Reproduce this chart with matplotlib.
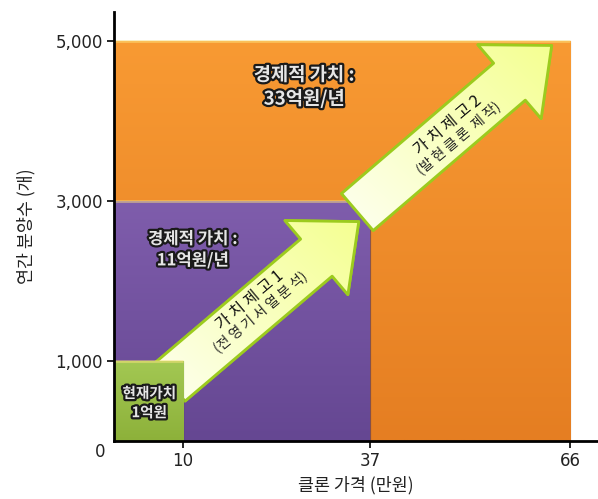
import numpy as np
import matplotlib
matplotlib.use('Agg')
import matplotlib.pyplot as plt
from matplotlib.patches import FancyArrowPatch, ArrowStyle
import matplotlib.patheffects as pe

plt.rcParams['font.family'] = ['Noto Sans CJK KR', 'DejaVu Sans']

# 단계별 (가격, 분양수)
prices = [66, 37, 10]
volumes = [5000, 3000, 1000]
top_colors = ['#F89A33', '#7F5DAC', '#A3C853']
bot_colors = ['#E57E22', '#654792', '#8DB13A']
labels = ['경제적 가치 :\n33억원/년', '경제적 가치 :\n11억원/년', '현재가치\n1억원']
label_pos = [(27.5, 4420), (11.4, 2390), (5.1, 480)]
label_size = [13.5, 12, 10.5]

xticks = [10, 37, 66]
yticks = [1000, 3000, 5000]
ytick_labels = ['1,000', '3,000', '5,000']

# 화살표 (꼬리 중심 -> 끝점)
arrows = [((8.0, 730), (35.4, 2740)), ((35.2, 2860), (63.3, 4940))]
arrow_text1 = ['가 치 제 고 1', '가 치 제 고 2']
arrow_text2 = ['(전 영 기 서 열 분 석)', '(발 현 클 론  제 작)']
arrow_text_pos = [(20.5, 1680), (49.1, 3860)]

fig = plt.figure(figsize=(5.98, 4.99), dpi=100)
ax = fig.add_axes([0.1906, 0.1162, 0.8094, 0.86])
ax.set_xlim(0, 70)
ax.set_ylim(0, 5360)


def grad_img(patch, c_a, c_b, x0, x1, y0, y1, z, diag=False):
    c1 = np.array(matplotlib.colors.to_rgb(c_a))
    c2 = np.array(matplotlib.colors.to_rgb(c_b))
    n = 120
    if diag:
        u = np.linspace(0, 1, n)
        t = (u[None, :] + u[::-1, None]) / 2
    else:
        t = np.repeat(np.linspace(0, 1, n)[:, None], 2, axis=1)
    img = c1 * (1 - t[..., None]) + c2 * t[..., None]
    im = ax.imshow(img, extent=[x0, x1, y0, y1], aspect='auto',
                   origin='upper', zorder=z, interpolation='bilinear')
    im.set_clip_path(patch)


def draw_box(i, z):
    b = ax.bar(0, volumes[i], width=prices[i], align='edge',
               color=bot_colors[i], edgecolor='#00000030', linewidth=1,
               zorder=z)[0]
    grad_img(b, top_colors[i], bot_colors[i], 0, prices[i], 0, volumes[i], z + 0.1)
    # 윗면 밝은 테두리
    ax.plot([0, prices[i]], [volumes[i], volumes[i]], color='#FFE680',
            alpha=0.5, lw=2, zorder=z + 0.2, solid_capstyle='butt')


def draw_arrow(i, z):
    st = ArrowStyle.Simple(head_length=40, head_width=70, tail_width=35)
    (x0, y0), (x1, y1) = arrows[i]
    a = FancyArrowPatch((x0, y0), (x1, y1), arrowstyle=st,
                        shrinkA=0, shrinkB=0, mutation_scale=1,
                        facecolor='#F8FFB0', edgecolor='#9CCB1E',
                        linewidth=2, zorder=z)
    ax.add_patch(a)
    grad_img(a, '#FFFFFF', '#F4FF8A', x0 - 6, x1 + 2, y0 - 600, y1 + 200, z + 0.1, diag=True)
    edge = FancyArrowPatch((x0, y0), (x1, y1), arrowstyle=st,
                           shrinkA=0, shrinkB=0, mutation_scale=1,
                           facecolor='none', edgecolor='#9CCB1E',
                           linewidth=2, zorder=z + 0.2)
    ax.add_patch(edge)
    tx, ty = arrow_text_pos[i]
    ax.text(tx, ty, arrow_text1[i], rotation=40, rotation_mode='anchor',
            ha='center', va='bottom', fontsize=11.5, color='#111',
            zorder=z + 1)
    ax.text(tx, ty, arrow_text2[i], rotation=40, rotation_mode='anchor',
            ha='center', va='top', fontsize=10, color='#222', zorder=z + 1)


draw_box(0, 1)
draw_box(1, 2)
draw_arrow(0, 3)
draw_box(2, 5)
draw_arrow(1, 6)

stroke = [pe.withStroke(linewidth=3.2, foreground='#1a1a1a')]
for i in range(3):
    ax.text(label_pos[i][0], label_pos[i][1], labels[i], ha='center',
            va='center', fontsize=label_size[i], fontweight='bold',
            color='#e6e6e6', linespacing=1.25, path_effects=stroke, zorder=8)

for s in ['top', 'right']:
    ax.spines[s].set_visible(False)
for s in ['left', 'bottom']:
    ax.spines[s].set_linewidth(2)
    ax.spines[s].set_zorder(10)

ax.set_xticks(xticks)
ax.set_xticklabels([str(v) for v in xticks], family='DejaVu Sans')
ax.set_yticks(yticks)
ax.set_yticklabels(ytick_labels, family='DejaVu Sans')
ax.tick_params(axis='both', labelsize=12, labelcolor='#222', length=5,
               width=1.2, direction='out', pad=3)
ax.annotate('0', (0, 0), xytext=(-10, -8), textcoords='offset points',
            ha='center', va='center', fontsize=12, color='#222',
            family='DejaVu Sans', annotation_clip=False)

ax.set_xlabel('클론 가격 (만원)', fontsize=12.5, color='#222', labelpad=4)
ax.set_ylabel('연간 분양수 (개)', fontsize=12.5, color='#222', labelpad=14)

fig.savefig('out.png', dpi=100)
